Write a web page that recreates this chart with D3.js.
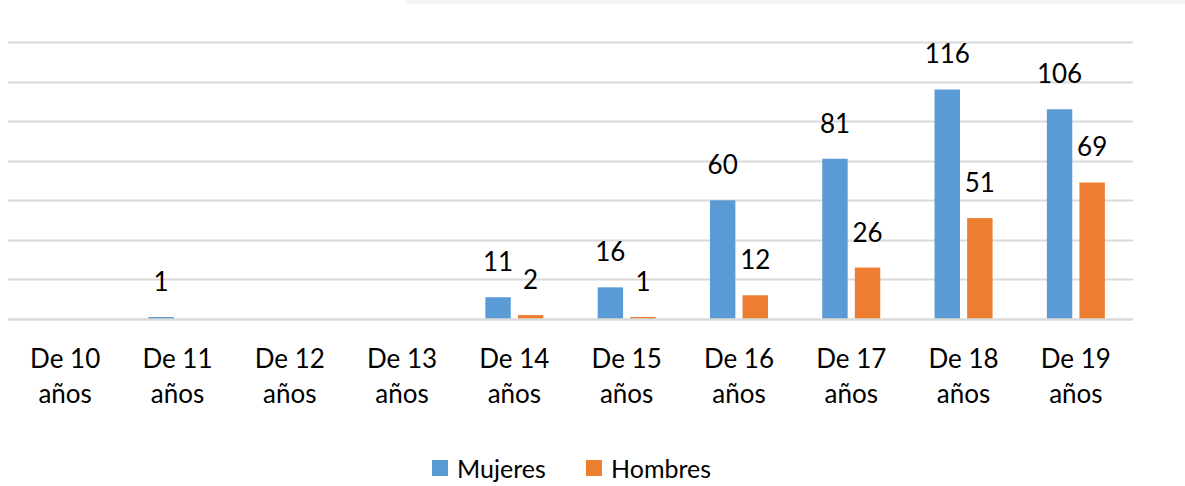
<!DOCTYPE html>
<html>
<head>
<meta charset="utf-8">
<script src="https://cdn.jsdelivr.net/npm/d3@7"></script>
<style>
  html, body { margin: 0; padding: 0; background: #fff; }
  svg text { font-family: Lato, "Open Sans", sans-serif; fill: #000; }
</style>
</head>
<body>
<svg id="chart" width="1185" height="486"></svg>
<script>
'use strict';

// Datos
var categorias = ["De 10 años", "De 11 años", "De 12 años", "De 13 años", "De 14 años",
	"De 15 años", "De 16 años", "De 17 años", "De 18 años", "De 19 años"];
var series = ["Mujeres", "Hombres"];
var mujeres = [null, 1, null, null, 11, 16, 60, 81, 116, 106];
var hombres = [null, null, null, null, 2, 1, 12, 26, 51, 69];
var gridValores = [0, 20, 40, 60, 80, 100, 120, 140];
var colores = ["#5B9BD5", "#ED7D31"];

var svg = d3.select("#chart");
var margin = {top: 42, right: 53, bottom: 167, left: 9};
var W = 1185, H = 486;

var x = d3.scaleBand()
		.domain(categorias)
		.range([margin.left, W - margin.right])
		.paddingInner(0)
		.paddingOuter(0);

var xSerie = d3.scaleBand()
		.domain(series)
		.range([0, 58])
		.paddingInner(0.22);

var y = d3.scaleLinear()
		.domain([0, 140])
		.range([H - margin.bottom, margin.top]);

// Franja gris decorativa arriba
svg.append("path")
		.attr("d", "M404,0 L1185,0 L1185,4 L408,4 Z")
		.attr("fill", "#f4f4f4");

// Líneas de cuadrícula (la base se dibuja encima de las barras)
function lineaGrid(sel) {
	sel.attr("x1", margin.left - 1)
			.attr("x2", W - margin.right + 1)
			.attr("y1", function(d) { return Math.round(y(d)) + 0.5; })
			.attr("y2", function(d) { return Math.round(y(d)) + 0.5; })
			.attr("stroke", "#d9d9d9")
			.attr("stroke-width", 2);
}

svg.append("g")
		.selectAll("line")
		.data(gridValores.filter(function(v) { return v > 0; }))
		.enter().append("line")
		.call(lineaGrid);

var datos = categorias.map(function(c, i) {
	return {cat: c, vals: [
		{serie: "Mujeres", valor: mujeres[i]},
		{serie: "Hombres", valor: hombres[i]}
	]};
});

var gCat = svg.append("g")
		.selectAll("g")
		.data(datos)
		.enter().append("g")
		.attr("transform", function(d) {
			return "translate(" + (x(d.cat) + x.bandwidth() / 2 - 29) + ",0)";
		});

var barras = gCat.selectAll("g.barra")
		.data(function(d) { return d.vals.filter(function(v) { return v.valor !== null; }); })
		.enter().append("g")
		.attr("class", "barra");

barras.append("rect")
		.attr("x", function(d) { return xSerie(d.serie); })
		.attr("width", xSerie.bandwidth())
		.attr("y", function(d) { return y(d.valor); })
		.attr("height", function(d) { return y(0) - y(d.valor); })
		.attr("fill", function(d) { return colores[series.indexOf(d.serie)]; });

barras.append("text")
		.attr("x", function(d) { return xSerie(d.serie) + xSerie.bandwidth() / 2; })
		.attr("y", function(d) { return y(d.valor) - 26; })
		.attr("text-anchor", "middle")
		.attr("font-size", 26)
		.text(function(d) { return d.valor; });

svg.append("line")
		.datum(0)
		.call(lineaGrid)
		.attr("stroke-width", 2.5);

// Etiquetas del eje X (dos líneas)
var etiquetas = svg.append("g")
		.selectAll("text")
		.data(categorias)
		.enter().append("text")
		.attr("text-anchor", "middle")
		.attr("font-size", 26)
		.attr("x", function(d) { return x(d) + x.bandwidth() / 2; })
		.attr("y", 368);

etiquetas.append("tspan")
		.attr("x", function(d) { return x(d) + x.bandwidth() / 2; })
		.text(function(d) { return d.split(" ").slice(0, 2).join(" "); });
etiquetas.append("tspan")
		.attr("x", function(d) { return x(d) + x.bandwidth() / 2; })
		.attr("dy", 35)
		.text(function(d) { return d.split(" ")[2]; });

// Leyenda
var leyendaPos = [432, 586];
var gLeg = svg.append("g")
		.selectAll("g")
		.data(series)
		.enter().append("g")
		.attr("transform", function(d, i) { return "translate(" + leyendaPos[i] + ",460)"; });

gLeg.append("rect")
		.attr("width", 16)
		.attr("height", 16)
		.attr("fill", function(d, i) { return colores[i]; });

gLeg.append("text")
		.attr("x", 25)
		.attr("y", 18)
		.attr("font-size", 25)
		.text(function(d) { return d; });
</script>
</body>
</html>
